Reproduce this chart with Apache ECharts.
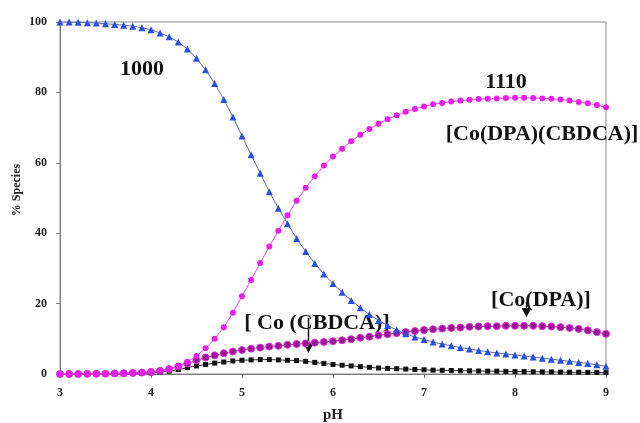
<!DOCTYPE html>
<html>
<head>
<meta charset="utf-8">
<script src="https://cdn.jsdelivr.net/npm/echarts@6/dist/echarts.min.js"></script>
<style>
html,body{margin:0;padding:0;background:#fff;}
#c{width:640px;height:423px;}
</style>
</head>
<body>
<div id="c"></div>
<script>
var pH = [3.0,3.1,3.2,3.3,3.4,3.5,3.6,3.7,3.8,3.9,
          4.0,4.1,4.2,4.3,4.4,4.5,4.6,4.7,4.8,4.9,
          5.0,5.1,5.2,5.3,5.4,5.5,5.6,5.7,5.8,5.9,
          6.0,6.1,6.2,6.3,6.4,6.5,6.6,6.7,6.8,6.9,
          7.0,7.1,7.2,7.3,7.4,7.5,7.6,7.7,7.8,7.9,
          8.0,8.1,8.2,8.3,8.4,8.5,8.6,8.7,8.8,8.9,9.0];

var s1000 = [100,100,99.9,99.8,99.7,99.5,99.3,99.1,98.8,98.4,
             97.8,96.9,95.8,94.3,92.3,89.7,86.4,82.5,78.0,73.0,
             67.6,62.3,57.0,51.8,47.1,42.7,38.5,34.8,31.4,28.4,
             25.7,23.2,20.9,18.8,16.9,15.2,13.8,12.5,11.4,10.5,
             9.8,9.1,8.5,8.0,7.5,7.1,6.7,6.3,6.0,5.7,
             5.4,5.1,4.8,4.5,4.2,3.9,3.6,3.3,3.0,2.6,2.2];

var s1110 = [0,0,0,0,0.05,0.1,0.15,0.2,0.3,0.45,
             0.65,0.95,1.4,2.2,3.5,5.1,7.3,10.0,13.3,17.4,
             22.1,26.7,31.5,36.2,40.7,45.1,49.2,52.9,56.2,59.2,
             61.8,64.0,66.1,68.0,69.6,71.1,72.4,73.5,74.5,75.3,
             76.0,76.6,77.0,77.4,77.7,77.9,78.1,78.2,78.3,78.4,
             78.5,78.5,78.4,78.3,78.2,78.0,77.7,77.3,76.9,76.4,75.8];

var sCoDPA = [0,0,0,0.05,0.05,0.1,0.15,0.2,0.3,0.4,
              0.6,0.9,1.4,2.1,3.0,3.9,4.7,5.3,5.9,6.4,
              6.8,7.2,7.5,7.8,8.0,8.3,8.5,8.7,8.9,9.1,
              9.3,9.6,9.9,10.3,10.6,11.0,11.3,11.6,11.9,12.2,
              12.5,12.7,12.9,13.1,13.2,13.4,13.5,13.6,13.6,13.7,
              13.7,13.7,13.7,13.6,13.5,13.3,13.1,12.8,12.4,11.9,11.4];

var sCoCBDCA = [0,0,0,0,0,0,0.05,0.05,0.1,0.2,
                0.3,0.5,0.8,1.3,1.8,2.3,2.7,3.1,3.4,3.7,
                3.9,4.0,4.1,4.1,4.0,3.9,3.8,3.6,3.3,3.0,
                2.7,2.5,2.3,2.1,1.9,1.7,1.6,1.5,1.4,1.3,
                1.2,1.1,1.05,1.0,0.95,0.9,0.85,0.8,0.8,0.75,
                0.7,0.7,0.65,0.6,0.6,0.55,0.5,0.5,0.45,0.45,0.4];

var xTicks = [3,4,5,6,7,8,9];
var yTicks = [0,20,40,60,80,100];

function pairs(arr){ return pH.map(function(x,i){ return [x, arr[i]]; }); }

var serif = '"Liberation Serif","Times New Roman",serif';
var chart = echarts.init(document.getElementById('c'), null, {renderer:'canvas'});

function label(txt, x, y){
  return {type:'text', x:x, y:y,
          style:{text:txt, font:'bold 22px '+serif, fill:'#111', textAlign:'center', textVerticalAlign:'middle'}};
}

var option = {
  animation:false,
  backgroundColor:'#ffffff',
  grid:{left:60,right:34,top:22,bottom:49,show:true,borderColor:'#8a8a8a',borderWidth:1,
        containLabel:false,outerBoundsMode:'none'},
  xAxis:{
    type:'value', min:3, max:9, interval:1,
    name:'pH', nameLocation:'middle', nameGap:34,
    nameTextStyle:{fontFamily:serif,fontWeight:'bold',fontSize:15,color:'#222'},
    axisLine:{lineStyle:{color:'#7a7a7a'}},
    axisTick:{show:true,length:4,lineStyle:{color:'#7a7a7a'}},
    axisLabel:{fontFamily:serif,fontWeight:'bold',fontSize:12,color:'#222',margin:13},
    splitLine:{show:false}
  },
  yAxis:{
    type:'value', min:0, max:100, interval:20,
    axisLine:{show:true,lineStyle:{color:'#7a7a7a'}},
    axisTick:{show:true,length:4,lineStyle:{color:'#7a7a7a'}},
    axisLabel:{fontFamily:serif,fontWeight:'bold',fontSize:12,color:'#222',margin:13},
    splitLine:{show:false}
  },
  series:[
    {name:'Co(CBDCA)',type:'line',data:pairs(sCoCBDCA),symbol:'rect',symbolSize:5,
     lineStyle:{color:'#333',width:1},itemStyle:{color:'#111'}},
    {name:'Co(DPA)',type:'line',data:pairs(sCoDPA),symbol:'circle',symbolSize:7,
     lineStyle:{color:'#d21ed2',width:1},itemStyle:{color:'#9a1390',borderColor:'#e030e0',borderWidth:1}},
    {name:'1000',type:'line',data:pairs(s1000),symbol:'triangle',symbolSize:7,
     lineStyle:{color:'#5f6ea0',width:1},itemStyle:{color:'#2850e0'}},
    {name:'1110',type:'line',data:pairs(s1110),symbol:'circle',symbolSize:6,
     lineStyle:{color:'#ee44ee',width:1},itemStyle:{color:'#ea1eea'}}
  ],
  graphic:[
    {type:'text', x:17, y:190, rotation:Math.PI/2,
     style:{text:'% Species', font:'bold 12px '+serif, fill:'#222', textAlign:'center', textVerticalAlign:'middle'}},
    label('1000', 142, 69),
    label('1110', 506, 82),
    label('[Co(DPA)(CBDCA)]', 542, 134),
    label('[Co(DPA)]', 541, 300),
    label('[ Co (CBDCA)]', 317, 323),
    {type:'line',shape:{x1:526.5,y1:302,x2:526.5,y2:310},style:{stroke:'#111',lineWidth:1.5}},
    {type:'polygon',shape:{points:[[521.5,308],[531.5,308],[526.5,317]]},style:{fill:'#111'}},
    {type:'line',shape:{x1:308.5,y1:318,x2:308.5,y2:345},style:{stroke:'#111',lineWidth:1.5}},
    {type:'polygon',shape:{points:[[303.5,343],[313.5,343],[308.5,353]]},style:{fill:'#111'}}
  ]
};
chart.setOption(option);
</script>
</body>
</html>
